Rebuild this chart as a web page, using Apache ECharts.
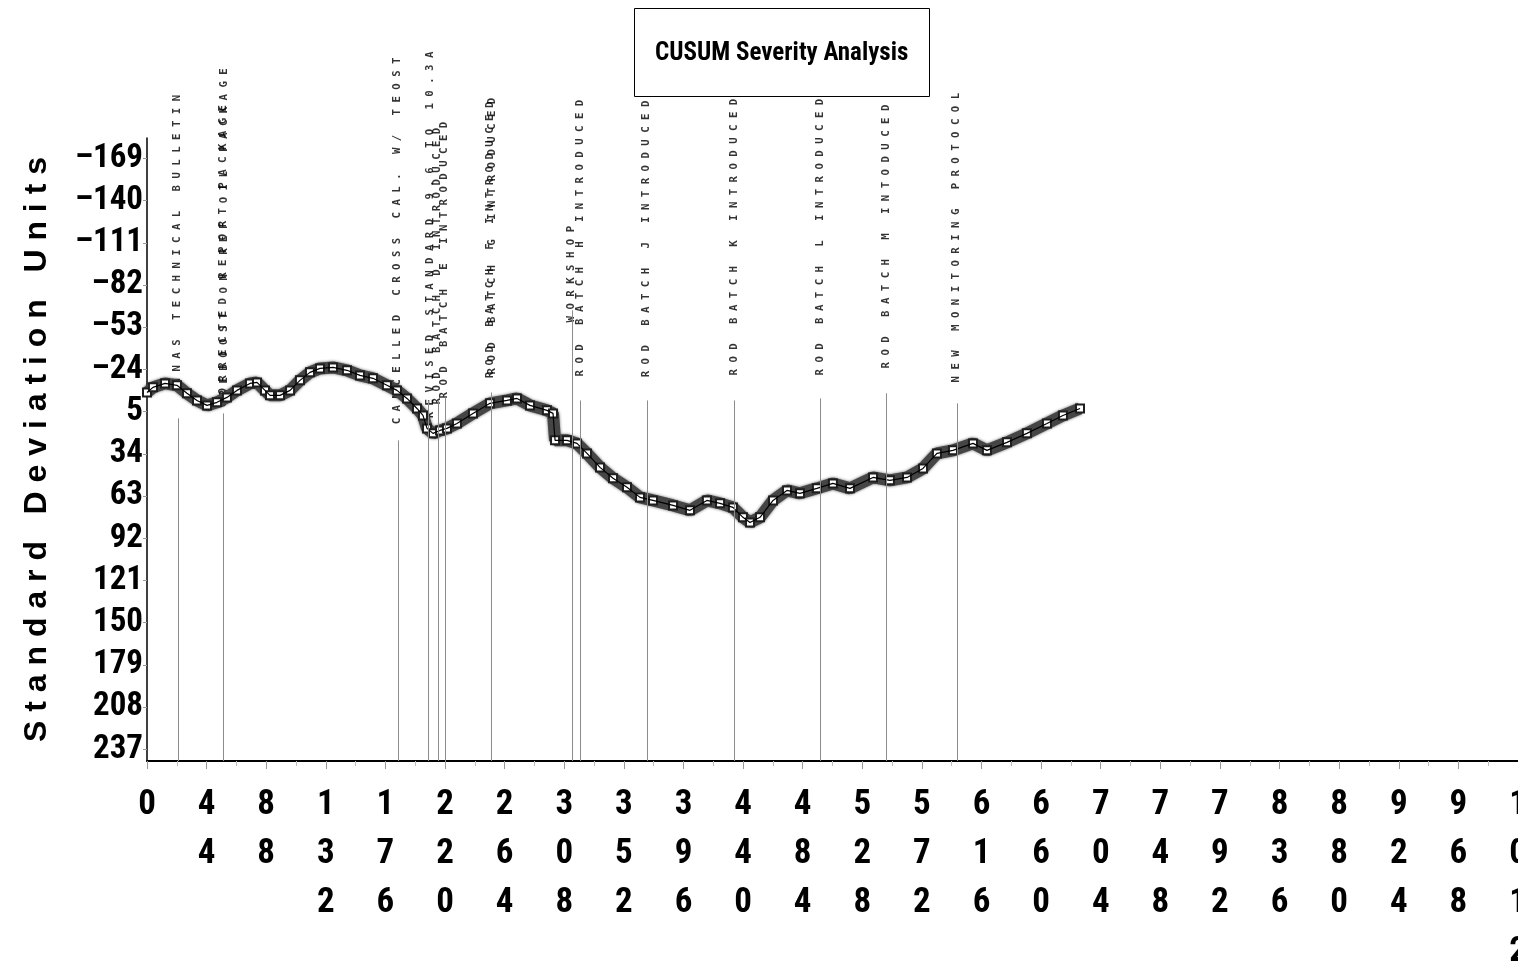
<!DOCTYPE html>
<html>
<head>
<meta charset="utf-8">
<title>CUSUM Severity Analysis</title>
<script src="https://cdn.jsdelivr.net/npm/echarts@6/dist/echarts.min.js"></script>
<style>
  html, body { margin: 0; padding: 0; background: #fff; }
  #chart { width: 1518px; height: 977px; }
</style>
</head>
<body>
<div id="chart"></div>
<script>
// CUSUM curve: test sequence number vs. cumulative severity (standard deviation units)
const cusumX = [0, 4.4, 13.3, 22.1, 29.5, 36.9, 44.3, 51.7, 59.0, 66.4,
  76.0, 81.2, 87.1, 90.8, 98.2, 105.6, 112.9, 120.3, 127.7, 137.3,
  147.6, 157.2, 166.8, 177.1, 184.5, 191.9, 199.3, 203.7, 206.7, 211.1,
  216.3, 221.4, 228.8, 240.6, 253.2, 265.7, 273.1, 282.7, 295.2, 299.7,
  301.2, 310.0, 317.4, 324.8, 334.4, 344.0, 354.3, 363.9, 373.5, 388.3,
  400.8, 413.3, 423.0, 432.5, 439.9, 445.1, 452.5, 462.1, 472.4, 482.0,
  494.5, 506.3, 518.9, 535.9, 548.4, 561.0, 572.8, 583.1, 594.9, 609.7,
  620.0, 634.8, 649.5, 664.3, 676.1, 688.7];
const cusumY = [-8.2, -11.7, -14.4, -13.1, -7.6, -2.7, 0.7, -1.4, -4.8, -9.6,
  -14.4, -15.1, -9.6, -6.2, -6.2, -9.6, -16.5, -22.0, -24.7, -25.4,
  -23.4, -19.9, -17.9, -13.1, -9.6, -4.1, 2.8, 7.6, 16.5, 19.9,
  17.9, 16.5, 13.1, 6.2, -0.7, -2.7, -4.1, 0.7, 4.1, 6.2,
  24.7, 24.7, 26.8, 33.7, 43.3, 50.8, 57.0, 63.9, 66.0, 69.4,
  72.8, 66.0, 68.0, 70.8, 77.6, 81.1, 77.6, 66.0, 59.1, 61.1,
  57.7, 54.3, 57.7, 50.2, 52.2, 50.2, 44.0, 33.7, 31.6, 26.8,
  31.6, 26.1, 19.9, 13.1, 7.6, 2.8];

// Axis ticks
const yTickValues = [-169, -140, -111, -82, -53, -24, 5, 34, 63, 92, 121, 150, 179, 208, 237];
const yMin = -183, yMax = 245;
const xMin = 0, xMax = 1012, xStep = 44;

// Event marker lines (x position, upper end of the line)
const eventLineX   = [22.9, 56.1, 185.3, 207.4, 214.8, 220.0, 253.9, 313.7, 319.6, 369.1, 433.3, 496.8, 545.5, 597.9];
const eventLineTop = [9.6, 6.2, 24.7, -2.7, -2.7, -4.8, -8.2, -64.6, -2.7, -2.7, -2.7, -4.1, -7.6, -0.7];

// Event notes (x position, where the vertical text starts, text)
const noteX = [22.1, 56.1, 56.8, 184.5, 208.9, 214.1, 219.2, 253.2, 254.6, 313.0, 319.6, 368.3, 433.3, 496.8, 545.5, 597.1];
const noteY = [-13.7, 2.1, -5.5, 13.7, 9.6, 0.0, -4.1, -17.9, -20.6, -56.3, -19.2, -18.6, -19.9, -19.9, -24.7, -15.1];
const noteText = [
  'NNAS TECHNICAL BULLETIN',
  'CORRECTED REPORT PACKAGE',
  'REBOOST ON REF OIL PACKAGE',
  'CANCELLED CROSS CAL. W/ TEOST',
  'REVISED STANDARD 9.6 TO 10.3A',
  'ROD BATCH D INTRODUCED',
  'ROD BATCH E INTRODUCED',
  'ROD BATCH F INTRODUCED',
  'ROD BATCH G INTRODUCED',
  'WORKSHOP',
  'ROD BATCH H INTRODUCED',
  'ROD BATCH J INTRODUCED',
  'ROD BATCH K INTRODUCED',
  'ROD BATCH L INTRODUCED',
  'ROD BATCH M INTODUCED',
  'NEW MONITORING PROTOCOL'
];

// pick the narrowest installed sans face for the big bold numerals
function fontInstalled(name) {
  const ctx = document.createElement('canvas').getContext('2d');
  const probe = '0123456789 CUSUM Severity';
  ctx.font = 'bold 40px monospace';
  const a = ctx.measureText(probe).width;
  ctx.font = "bold 40px '" + name + "', monospace";
  const b = ctx.measureText(probe).width;
  ctx.font = 'bold 40px serif';
  const c = ctx.measureText(probe).width;
  ctx.font = "bold 40px '" + name + "', serif";
  const d = ctx.measureText(probe).width;
  return a !== b || c !== d;
}
const condensedFaces = ['Roboto Condensed', 'Liberation Sans Narrow', 'Arial Narrow', 'Noto Sans Condensed',
  'Open Sans Condensed', 'DejaVu Sans Condensed'];
const narrowFace = condensedFaces.find(fontInstalled);
const NARROW = narrowFace ? "'" + narrowFace + "', 'Liberation Sans', sans-serif" : "'Liberation Sans', sans-serif";
const yNumSize = narrowFace ? 33 : 28;
const xNumSize = narrowFace ? 35 : 30;
const titleSize = narrowFace ? 25 : 20;

// letter-spaced caption text
function spaced(s) {
  return s.split(' ').map(w => w.split('').join(' ')).join('   ');
}

const chart = echarts.init(document.getElementById('chart'), null, { renderer: 'canvas' });

const curveData = cusumX.map((x, i) => [x, cusumY[i]]);

chart.setOption({
  animation: false,
  backgroundColor: '#fff',
  title: {
    text: 'CUSUM Severity Analysis',
    left: 634,
    top: 8,
    padding: [31, 21, 29, 21],
    borderColor: '#000',
    borderWidth: 1,
    backgroundColor: '#fff',
    textStyle: { fontFamily: NARROW, fontWeight: 'bold', fontSize: titleSize, lineHeight: 29, color: '#000' }
  },
  grid: { left: 147, right: 0, top: 138, bottom: 216, containLabel: false, outerBoundsMode: 'none' },
  xAxis: {
    type: 'value',
    min: xMin,
    max: xMax,
    interval: xStep,
    splitLine: { show: false },
    axisLine: { show: true, onZero: false, lineStyle: { color: '#000', width: 2 } },
    axisTick: { show: true, length: 8, lineStyle: { color: '#999', width: 1 } },
    minorTick: { show: true, splitNumber: 2, length: 5, lineStyle: { color: '#bbb' } },
    axisLabel: {
      show: true,
      showMinLabel: true,
      showMaxLabel: true,
      hideOverlap: false,
      margin: 20,
      fontFamily: NARROW,
      fontWeight: 'bold',
      fontSize: xNumSize,
      lineHeight: 49,
      color: '#000',
      formatter: v => String(v).split('').join('\n')
    }
  },
  yAxis: {
    type: 'value',
    inverse: true,
    min: yMin,
    max: yMax,
    name: spaced('Standard Deviation Units'),
    nameLocation: 'middle',
    nameRotate: 90,
    nameGap: 94,
    nameTextStyle: { fontFamily: "'Liberation Sans', Arial, sans-serif", fontWeight: 'bold', fontSize: 32, color: '#000' },
    splitLine: { show: false },
    axisLine: { show: true, onZero: false, lineStyle: { color: '#000', width: 1.5 } },
    axisTick: { show: true, customValues: yTickValues, length: 4, lineStyle: { color: '#999' } },
    axisLabel: {
      customValues: yTickValues,
      margin: 4,
      fontFamily: NARROW,
      fontWeight: 'bold',
      fontSize: yNumSize,
      color: '#000',
      formatter: v => (v < 0 ? '\u2013' + (-v) : String(v))
    }
  },
  series: [
    {
      name: 'events',
      type: 'line',
      data: [],
      silent: true,
      z: 1,
      markLine: {
        silent: true,
        animation: false,
        symbol: ['none', 'none'],
        label: { show: false },
        lineStyle: { color: '#8c8c8c', width: 1, type: 'solid' },
        data: eventLineX.map((x, i) => [{ coord: [x, eventLineTop[i]] }, { coord: [x, yMax] }])
      }
    },
    {
      name: 'notes',
      type: 'scatter',
      silent: true,
      z: 2,
      symbolSize: 1,
      itemStyle: { color: 'rgba(0,0,0,0)' },
      data: noteX.map((x, i) => ({ value: [x, noteY[i]], name: noteText[i] })),
      label: {
        show: true,
        position: 'inside',
        rotate: 90,
        align: 'left',
        verticalAlign: 'middle',
        fontFamily: "'DejaVu Sans Mono', 'Liberation Mono', monospace",
        fontWeight: 'bold',
        fontSize: 10.7,
        color: '#000',
        formatter: p => spaced(p.name)
      }
    },
    {
      name: 'CUSUM',
      type: 'line',
      z: 3,
      data: curveData,
      symbol: 'emptyRect',
      symbolSize: 8,
      showSymbol: true,
      itemStyle: { color: '#1e1e1e', borderWidth: 1 },
      lineStyle: { width: 12, color: '#454545', shadowBlur: 3, shadowColor: 'rgba(0,0,0,0.6)' }
    },
    {
      name: 'CUSUM trace',
      type: 'line',
      z: 4,
      data: curveData,
      symbol: 'none',
      lineStyle: { width: 1.2, color: '#000' }
    }
  ]
});
</script>
</body>
</html>
